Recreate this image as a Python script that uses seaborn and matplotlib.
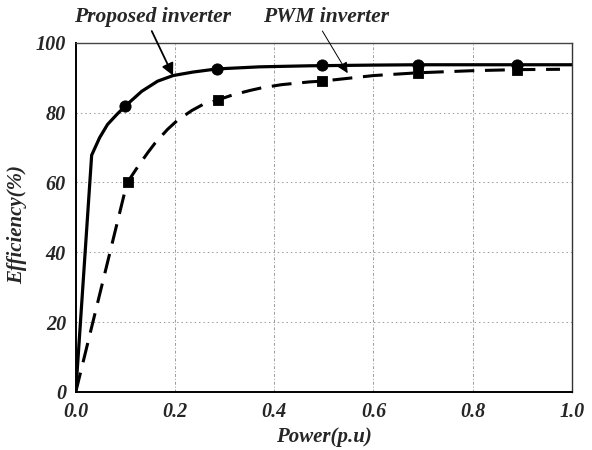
import matplotlib
matplotlib.use("Agg")
import matplotlib.pyplot as plt
import seaborn as sns
import pandas as pd

# Efficiency curves versus output power (per unit)
proposed_x = [0.0, 0.032, 0.048, 0.064, 0.083, 0.100, 0.133, 0.165, 0.196,
              0.236, 0.284, 0.37, 0.47, 0.60, 0.69, 0.89, 1.0]
proposed_y = [0.0, 67.8, 72.8, 76.6, 79.5, 81.9, 86.1, 89.0, 90.6,
              91.6, 92.5, 93.1, 93.4, 93.6, 93.7, 93.7, 93.7]
proposed_mx = [0.100, 0.284, 0.496, 0.69, 0.89]
proposed_my = [81.9, 92.5, 93.5, 93.7, 93.7]

pwm_x = [0.0, 0.10, 0.105, 0.125, 0.145, 0.16, 0.185, 0.205, 0.234, 0.256,
         0.286, 0.315, 0.35, 0.375, 0.415, 0.472, 0.496, 0.60, 0.69, 0.80,
         0.89, 0.976]
pwm_y = [0.0, 58.0, 60.2, 64.5, 68.5, 71.3, 75.2, 77.8, 80.6, 82.3,
         83.6, 85.0, 86.3, 87.1, 88.0, 88.8, 89.0, 90.6, 91.4, 92.0,
         92.3, 92.4]
pwm_mx = [0.105, 0.286, 0.496, 0.69, 0.89]
pwm_my = [60.2, 83.6, 89.0, 91.4, 92.3]

x_ticks = [0.0, 0.2, 0.4, 0.6, 0.8, 1.0]
x_ticklabels = ["0.0", "0.2", "0.4", "0.6", "0.8", "1.0"]
y_ticks = [0, 20, 40, 60, 80, 100]
y_ticklabels = ["0", "20", "40", "60", "80", "100"]

sns.set_style("white")
plt.rcParams["font.family"] = ["Liberation Serif", "DejaVu Serif"]

fig = plt.figure(figsize=(5.92, 4.5), dpi=100)
ax = fig.add_axes([0.128, 0.129, 0.838, 0.776])

prop_df = pd.DataFrame({"p": proposed_x, "eff": proposed_y})
pwm_df = pd.DataFrame({"p": pwm_x, "eff": pwm_y})

sns.lineplot(data=prop_df, x="p", y="eff", ax=ax, color="black", lw=2.3,
             sort=False, estimator=None)
sns.lineplot(data=pwm_df, x="p", y="eff", ax=ax, color="black", lw=2.2,
             sort=False, estimator=None)
ax.lines[-1].set_dashes([6.5, 3.5])

sns.scatterplot(x=pwm_mx, y=pwm_my, ax=ax, marker="s", s=55, color="black",
                edgecolor="black", zorder=5)
sns.scatterplot(x=proposed_mx, y=proposed_my, ax=ax, marker="o", s=65,
                color="black", edgecolor="black", zorder=6)

ax.set_xlim(0, 1.0)
ax.set_ylim(0, 100)
ax.set_xticks(x_ticks)
ax.set_xticklabels(x_ticklabels)
ax.set_yticks(y_ticks)
ax.set_yticklabels(y_ticklabels)
ax.set_xticks([0.1, 0.3, 0.5, 0.7, 0.9], minor=True)
ax.set_yticks([10, 30, 50, 70, 90], minor=True)

for lbl in ax.get_xticklabels() + ax.get_yticklabels():
    lbl.set_fontsize(14.5)
    lbl.set_fontweight("bold")
    lbl.set_fontstyle("italic")

ax.tick_params(axis="both", which="major", direction="out", length=4,
               width=1.0, color="black", pad=3)
ax.tick_params(axis="x", which="minor", direction="in", length=4, width=0.8)
ax.tick_params(axis="y", which="minor", direction="out", length=4, width=0.8)

# grid: dash-dot verticals, dotted horizontals
for xv in [0.2, 0.4, 0.6, 0.8]:
    ax.axvline(xv, color="#9a9a9a", lw=0.7, ls=(0, (3, 2, 1, 2)), zorder=0)
for yv in [20, 40, 60, 80]:
    ax.axhline(yv, color="#9a9a9a", lw=0.7, ls=(0, (1.5, 3)), zorder=0)

for side in ["left", "bottom"]:
    ax.spines[side].set_color("black")
    ax.spines[side].set_linewidth(1.4)
ax.spines["top"].set_color("#444444")
ax.spines["top"].set_linewidth(1.0)
ax.spines["right"].set_color("#333333")
ax.spines["right"].set_linewidth(1.0)

ax.set_xlabel("Power(p.u)", fontsize=15, fontweight="bold", fontstyle="italic",
              labelpad=4)
ax.set_ylabel("Efficiency(%)", fontsize=15, fontweight="bold", fontstyle="italic")
ax.yaxis.set_label_coords(-0.097, 0.48)

ax.annotate("Proposed inverter", xy=(0.196, 90.6), xytext=(0.155, 107.5),
            textcoords="data", fontsize=15.5, fontweight="bold",
            fontstyle="italic", ha="center", va="center", annotation_clip=False,
            arrowprops=dict(arrowstyle="-|>", color="black", lw=1.3,
                            mutation_scale=18, shrinkA=1, shrinkB=0,
                            relpos=(0.45, 0.5)))
ax.annotate("PWM inverter", xy=(0.548, 91.3), xytext=(0.505, 107.5),
            textcoords="data", fontsize=15.5, fontweight="bold",
            fontstyle="italic", ha="center", va="center", annotation_clip=False,
            arrowprops=dict(arrowstyle="-|>", color="black", lw=0.7,
                            mutation_scale=16, shrinkA=1, shrinkB=0,
                            relpos=(0.4, 0.5)))

fig.savefig("out.png", dpi=100)
